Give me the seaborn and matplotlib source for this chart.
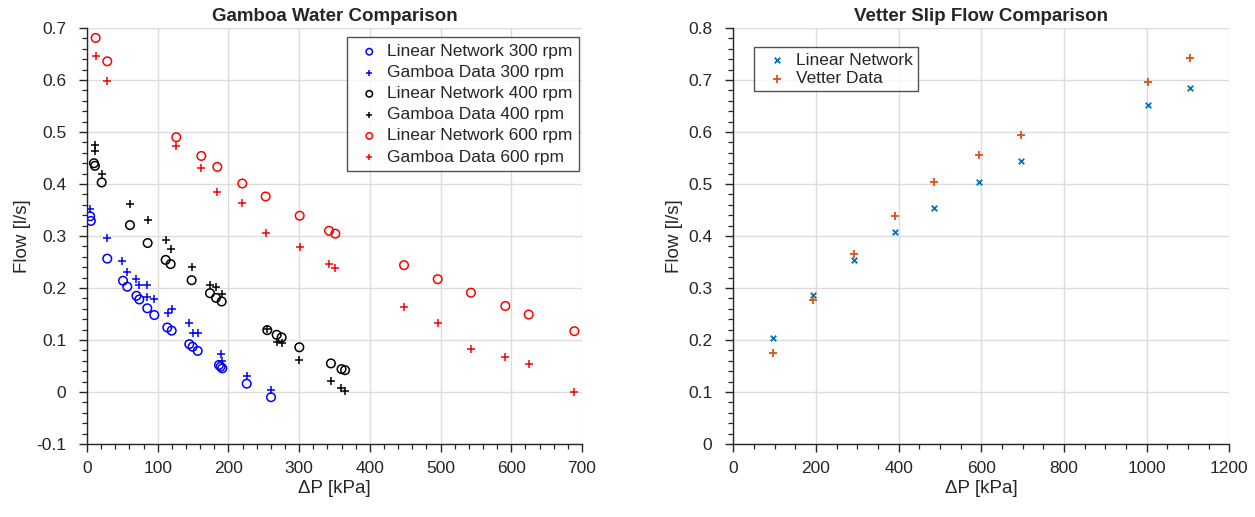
import matplotlib
matplotlib.use('Agg')
import matplotlib.pyplot as plt
from matplotlib.ticker import MultipleLocator
import seaborn as sns

# Gamboa water comparison (left)
ln300_dp = [4.5, 5.5, 28.7, 51, 57, 70, 74, 85.3, 95.2, 113.6, 119.8, 144.7, 149.4, 156.6, 186.7, 189, 191.4, 225.9, 260.3]
ln300_q = [0.338, 0.329, 0.2565, 0.214, 0.2025, 0.185, 0.178, 0.161, 0.148, 0.124, 0.118, 0.092, 0.087, 0.079, 0.052, 0.0487, 0.0455, 0.016, -0.010]
gd300_dp = [4.2, 28.7, 50, 57, 69, 73, 85.3, 85.3, 95.2, 115, 119.8, 144.7, 149.4, 157, 189.5, 190.5, 225.9, 260.3]
gd300_q = [0.352, 0.296, 0.252, 0.231, 0.218, 0.206, 0.206, 0.182, 0.179, 0.151, 0.160, 0.132, 0.113, 0.113, 0.074, 0.0596, 0.031, 0.003]

ln400_dp = [9.9, 11.3, 20.8, 60.8, 85.8, 111.3, 118.3, 148, 174, 182.5, 190.5, 255, 268.3, 275.3, 300.3, 345, 360, 365]
ln400_q = [0.44, 0.435, 0.403, 0.321, 0.2865, 0.254, 0.246, 0.215, 0.19, 0.181, 0.174, 0.119, 0.11, 0.105, 0.086, 0.055, 0.044, 0.042]
gd400_dp = [11.3, 11.3, 20.8, 60.8, 85.8, 111.3, 118.3, 148, 174, 182.5, 190.5, 255, 269, 275.3, 300.3, 345, 359, 365]
gd400_q = [0.475, 0.464, 0.42, 0.361, 0.330, 0.293, 0.275, 0.241, 0.206, 0.201, 0.188, 0.121, 0.0955, 0.0936, 0.0615, 0.022, 0.007, 0.002]

ln600_dp = [12.3, 28.7, 126.3, 161.7, 184.3, 219.7, 252.7, 300.8, 342.3, 351.2, 448.4, 496, 543, 591.7, 624.7, 689.3]
ln600_q = [0.681, 0.636, 0.490, 0.454, 0.433, 0.401, 0.376, 0.339, 0.310, 0.3045, 0.244, 0.217, 0.191, 0.1654, 0.149, 0.117]
gd600_dp = [12.3, 28.7, 126.3, 161.7, 184.3, 219.7, 252.7, 300.8, 342.3, 351.2, 448.4, 496, 543, 591.7, 624.7, 689.3]
gd600_q = [0.647, 0.599, 0.473, 0.431, 0.385, 0.363, 0.306, 0.279, 0.246, 0.238, 0.164, 0.132, 0.083, 0.068, 0.054, 0.0]

# Vetter slip flow comparison (right)
vet_dp = [96.8, 192.8, 292.8, 391.2, 486.3, 594.4, 695.2, 1002.4, 1104.8]
vet_ln = [0.2046, 0.286, 0.354, 0.4085, 0.4546, 0.503, 0.544, 0.6526, 0.6853]
vet_data = [0.1744, 0.2776, 0.366, 0.438, 0.503, 0.5565, 0.5937, 0.696, 0.7417]

sns.set_style('white')
plt.rcParams['font.family'] = ['Liberation Sans', 'DejaVu Sans']
plt.rcParams['axes.unicode_minus'] = False

fig = plt.figure(figsize=(12.55, 5.17), dpi=100)
ax1 = fig.add_axes([0.0693, 0.1412, 0.3944, 0.8046])
ax2 = fig.add_axes([0.5843, 0.1412, 0.3952, 0.8046])

axis_col = '#262626'


def style_axes(ax, xmax, xmaj, xmin_step, ymin, ymax):
    ax.set_xlim(0, xmax)
    ax.set_ylim(ymin, ymax)
    ax.xaxis.set_major_locator(MultipleLocator(xmaj))
    ax.xaxis.set_minor_locator(MultipleLocator(xmin_step))
    ax.yaxis.set_major_locator(MultipleLocator(0.1))
    ax.yaxis.set_minor_locator(MultipleLocator(0.02))
    ax.grid(True, which='major', color='#dcdcdc', linewidth=1.0)
    ax.set_axisbelow(True)
    for s in ['top', 'right']:
        ax.spines[s].set_visible(False)
    for s in ['left', 'bottom']:
        ax.spines[s].set_color(axis_col)
        ax.spines[s].set_linewidth(1.0)
    ax.tick_params(which='both', direction='out', colors=axis_col, labelcolor='#262626',
                   left=True, bottom=True, labelsize=12.5)
    ax.tick_params(which='major', length=6, width=1.0)
    ax.tick_params(axis='y', which='major', pad=9)
    ax.tick_params(axis='x', which='major', pad=6)
    ax.tick_params(which='minor', length=3.5, width=0.9)
    ax.yaxis.set_major_formatter(plt.FuncFormatter(lambda v, p: '%g' % round(v, 2)))
    ax.set_xlabel('ΔP [kPa]', fontsize=13.5, color='#262626', labelpad=3)
    ax.set_ylabel('Flow [l/s]', fontsize=13.5, color='#262626')


circ = dict(marker='o', s=38, linewidth=1.1)
plus = dict(marker='+', s=40, linewidth=1.1)

sns.scatterplot(x=ln300_dp, y=ln300_q, ax=ax1, color='blue', facecolor='none', edgecolor='blue',
                label='Linear Network 300 rpm', **circ)
sns.scatterplot(x=gd300_dp, y=gd300_q, ax=ax1, color='blue', label='Gamboa Data 300 rpm', **plus)
sns.scatterplot(x=ln400_dp, y=ln400_q, ax=ax1, color='black', facecolor='none', edgecolor='black',
                label='Linear Network 400 rpm', **circ)
sns.scatterplot(x=gd400_dp, y=gd400_q, ax=ax1, color='black', label='Gamboa Data 400 rpm', **plus)
sns.scatterplot(x=ln600_dp, y=ln600_q, ax=ax1, color='red', facecolor='none', edgecolor='red',
                label='Linear Network 600 rpm', **circ)
sns.scatterplot(x=gd600_dp, y=gd600_q, ax=ax1, color='red', label='Gamboa Data 600 rpm', **plus)

style_axes(ax1, 700, 100, 20, -0.1, 0.7)
ax1.set_title('Gamboa Water Comparison', fontsize=13.5, fontweight='bold', pad=5)
leg1 = ax1.legend(loc='upper right', fontsize=12.5, frameon=True, fancybox=False, edgecolor='#262626',
                  borderpad=0.4, handletextpad=0.1, handlelength=1.8, labelspacing=0.34,
                  markerscale=0.75, borderaxespad=0, bbox_to_anchor=(0.994, 0.978))
leg1.get_frame().set_linewidth(1.0)

sns.scatterplot(x=vet_dp, y=vet_ln, ax=ax2, color='#0072BD', marker='x', s=16, linewidth=1.3,
                label='Linear Network')
sns.scatterplot(x=vet_dp, y=vet_data, ax=ax2, color='#D95319', marker='+', s=38, linewidth=1.3,
                label='Vetter Data')
style_axes(ax2, 1200, 200, 50, 0, 0.8)
ax2.set_title('Vetter Slip Flow Comparison', fontsize=13.5, fontweight='bold', pad=5)
leg2 = ax2.legend(loc='upper left', fontsize=12.5, frameon=True, fancybox=False, edgecolor='#262626',
                  borderpad=0.3, handletextpad=0.1, labelspacing=0.2,
                  borderaxespad=0, bbox_to_anchor=(0.042, 0.954))
leg2.get_frame().set_linewidth(1.0)

fig.savefig('out.png', dpi=100, facecolor='white')
